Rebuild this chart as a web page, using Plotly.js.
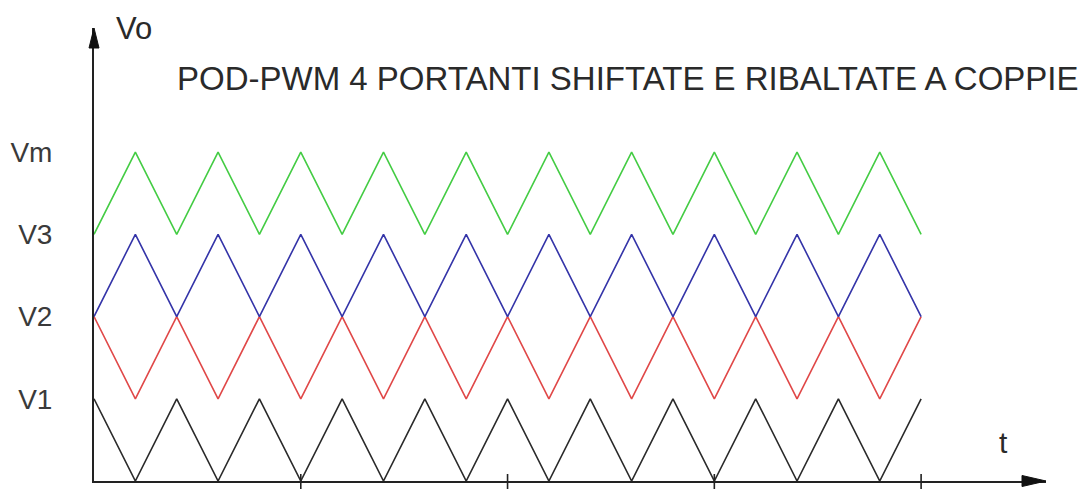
<!DOCTYPE html>
<html>
<head>
<meta charset="utf-8">
<script src="https://cdn.plot.ly/plotly-3.0.1.min.js"></script>
<style>html,body{margin:0;padding:0;background:#fff;}#chart{width:1092px;height:489px;}</style>
</head>
<body>
<div id="chart"></div>
<script>
// time points (periods of the carrier)
var tVals = [0,0.5,1,1.5,2,2.5,3,3.5,4,4.5,5,5.5,6,6.5,7,7.5,8,8.5,9,9.5,10];
// carriers
var carrier1 = [1,0,1,0,1,0,1,0,1,0,1,0,1,0,1,0,1,0,1,0,1];   // black, 0..V1
var carrier2 = [2,1,2,1,2,1,2,1,2,1,2,1,2,1,2,1,2,1,2,1,2];   // red, V1..V2
var carrier3 = [2,3,2,3,2,3,2,3,2,3,2,3,2,3,2,3,2,3,2,3,2];   // blue, V2..V3 (flipped)
var carrier4 = [3,4,3,4,3,4,3,4,3,4,3,4,3,4,3,4,3,4,3,4,3];   // green, V3..Vm (flipped)
// y tick positions / labels
var levelVals = [1,2,3,4];
var levelLabels = ['V1','V2','V3','Vm'];
// x-axis tick marks
var tTicks = [2.5,5,7.5,10];

var titleText = 'POD-PWM 4 PORTANTI SHIFTATE E RIBALTATE A COPPIE';

var W = 1092, H = 489;
var M = {l:94, r:46, t:28, b:8};
var xMax = 11.51, yMax = 5.51;
var PW = W - M.l - M.r, PH = H - M.t - M.b;
// paper fraction per pixel (used only to size arrowheads / tick marks)
var fx = 1 / PW, fy = 1 / PH;
var font = 'Liberation Sans, Arial, sans-serif';

function carrier(y, color){
  return {x:tVals, y:y, type:'scatter', mode:'lines',
          line:{color:color, width:1.6}, hoverinfo:'skip', showlegend:false, cliponaxis:false};
}
var data = [
  carrier(carrier1, '#2a2a2a'),
  carrier(carrier2, '#e04848'),
  carrier(carrier3, '#3434a8'),
  carrier(carrier4, '#44cc44')
];

function arrowPath(tipX, tipY, dx, dy, len, half){
  var bx = tipX - dx*len*fx, by = tipY - dy*len*fy;
  var px = -dy*half*fx, py = dx*half*fy;
  return 'M' + tipX + ',' + tipY + ' L' + (bx+px) + ',' + (by+py) + ' L' + (bx-px) + ',' + (by-py) + ' Z';
}

var shapes = [
  {type:'path', xref:'paper', yref:'paper', path:arrowPath(1, 0, 1, 0, 24, 5.5),
   fillcolor:'#111', line:{color:'#111', width:1}},
  {type:'path', xref:'paper', yref:'paper', path:arrowPath(0, 1, 0, 1, 20, 5),
   fillcolor:'#111', line:{color:'#111', width:1}}
];
tTicks.forEach(function(v){
  var xp = v / xMax;
  shapes.push({type:'line', xref:'paper', yref:'paper',
               x0:xp, x1:xp, y0:-8*fy, y1:7*fy, line:{color:'#222', width:1.6}});
});

var layout = {
  width:W, height:H,
  margin:{l:M.l, r:M.r, t:M.t, b:M.b, pad:0},
  paper_bgcolor:'#fff', plot_bgcolor:'#fff',
  showlegend:false,
  xaxis:{range:[0,xMax], showgrid:false, zeroline:false, showline:true,
         linecolor:'#222', linewidth:2, showticklabels:false, ticks:'', fixedrange:true},
  yaxis:{range:[0,yMax], showgrid:false, zeroline:false, showline:true,
         linecolor:'#222', linewidth:2, ticks:'', tickmode:'array',
         tickvals:levelVals, ticktext:levelLabels, ticklabelstandoff:34,
         tickfont:{family:font, size:28, color:'#3a3a3a'}, fixedrange:true},
  shapes:shapes,
  annotations:[
    {text:titleText, xref:'x', yref:'y', x:0.98, y:4.89, xanchor:'left', yanchor:'middle',
     showarrow:false, font:{family:font, size:33, color:'#2a2a2a'}},
    {text:'Vo', xref:'x', yref:'y', x:0.24, y:5.5, xanchor:'left', yanchor:'middle',
     showarrow:false, font:{family:font, size:31, color:'#2a2a2a'}},
    {text:'t', xref:'x', yref:'y', x:11.0, y:0.47, xanchor:'center', yanchor:'middle',
     showarrow:false, font:{family:font, size:30, color:'#2a2a2a'}}
  ]
};

Plotly.newPlot('chart', data, layout, {staticPlot:true, displayModeBar:false});
</script>
</body>
</html>
